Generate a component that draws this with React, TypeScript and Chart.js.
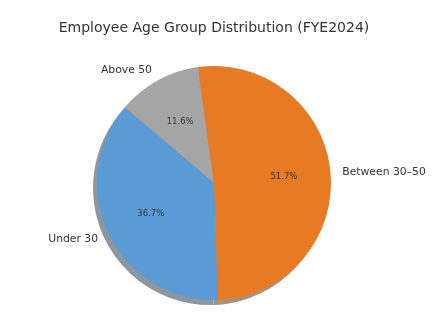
import React, { useEffect, useRef } from "react";
import { Chart, registerables } from "chart.js";

Chart.register(...registerables);

// Data (clockwise order starting from upper-left)
const categories = ["Above 50", "Between 30–50", "Under 30"];
const shares = [11.6, 51.7, 36.7];
const sliceColors = ["#A5A5A5", "#E87A24", "#5B9BD5"];
const shadowColors = ["#989898", "#A2927F", "#8D97A0"];
const titleText = "Employee Age Group Distribution (FYE2024)";
const FONT = "'DejaVu Sans', sans-serif";
const TEXT = "#333333";

const shadowPlugin = {
  id: "pieShadow",
  beforeDatasetsDraw(chart: any) {
    const ctx = chart.ctx;
    const meta = chart.getDatasetMeta(0);
    ctx.save();
    meta.data.forEach((arc: any, i: number) => {
      const { x, y, startAngle, endAngle, outerRadius } = arc.getProps(
        ["x", "y", "startAngle", "endAngle", "outerRadius"],
        true
      );
      ctx.beginPath();
      ctx.moveTo(x - 4, y + 5);
      ctx.arc(x - 4, y + 5, outerRadius, startAngle, endAngle);
      ctx.closePath();
      ctx.fillStyle = shadowColors[i];
      ctx.fill();
    });
    ctx.restore();
  },
};

const labelPlugin = {
  id: "pieLabels",
  afterDatasetsDraw(chart: any) {
    const ctx = chart.ctx;
    const meta = chart.getDatasetMeta(0);
    ctx.save();
    ctx.fillStyle = TEXT;
    ctx.textBaseline = "middle";
    meta.data.forEach((arc: any, i: number) => {
      const { x, y, startAngle, endAngle, outerRadius } = arc.getProps(
        ["x", "y", "startAngle", "endAngle", "outerRadius"],
        true
      );
      const mid = (startAngle + endAngle) / 2;
      const c = Math.cos(mid);
      const s = Math.sin(mid);
      ctx.font = `10.8px ${FONT}`;
      ctx.textAlign = c > 0 ? "left" : "right";
      ctx.fillText(categories[i], x + c * outerRadius * 1.1, y + s * outerRadius * 1.1);
      ctx.font = `8.5px ${FONT}`;
      ctx.textAlign = "center";
      ctx.fillText(
        shares[i].toFixed(1) + "%",
        x + c * outerRadius * 0.6,
        y + s * outerRadius * 0.6
      );
    });
    ctx.restore();
  },
};

export default function App() {
  const ref = useRef<HTMLCanvasElement | null>(null);
  useEffect(() => {
    if (!ref.current) return;
    const chart = new Chart(ref.current, {
      type: "pie",
      data: {
        labels: categories,
        datasets: [
          {
            data: shares,
            backgroundColor: sliceColors,
            borderWidth: 0,
          },
        ],
      },
      options: {
        responsive: false,
        animation: false,
        rotation: -49.7,
        layout: { padding: { left: 0, right: 6, top: 0, bottom: 15 } },
        plugins: {
          legend: { display: false },
          tooltip: { enabled: false },
          title: {
            display: true,
            text: titleText,
            color: TEXT,
            font: { family: FONT, size: 14, weight: "normal", lineHeight: 1.2 },
            padding: { top: 20, bottom: 66 - 20 - 16.8 },
          },
        },
      },
      plugins: [shadowPlugin, labelPlugin],
    });
    return () => chart.destroy();
  }, []);
  return (
    <div style={{ position: "absolute", left: 0, top: 0, width: 434, height: 315, background: "#fff" }}>
      <canvas ref={ref} width={434} height={315} />
    </div>
  );
}
